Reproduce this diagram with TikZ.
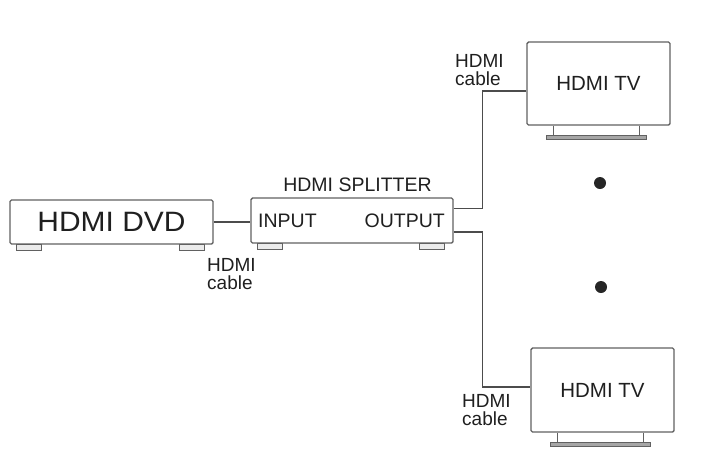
\documentclass[tikz,border=0pt]{standalone}
\usepackage{fontspec}
\setmainfont{Liberation Sans}
\newfontfamily\widesf[FakeStretch=1.07]{Liberation Sans}
\usepackage{tikz}
\usetikzlibrary{positioning,calc}
\colorlet{boxgray}{black!62}
\colorlet{inkgray}{black!88}
\tikzset{
  device/.style={draw=boxgray, line width=1.4pt, rounded corners=1.5pt,
    inner sep=0pt, text=inkgray, font=\fontsize{20.5}{20.5}\selectfont},
  port/.style={font=\fontsize{19.5}{19.5}\selectfont, inner sep=0pt, text=inkgray},
  cablenote/.style={font=\fontsize{19}{18}\selectfont, align=left, inner sep=0pt,
    anchor=north west, text=inkgray},
  cable/.style={draw=black!70, line width=1.2pt},
  foot/.style={draw=boxgray, line width=1pt, fill=black!8},
  leg/.style={draw=boxgray, line width=1pt},
  standbar/.style={draw=boxgray, line width=1pt, fill=black!35},
}
\begin{document}
\begin{tikzpicture}[x=1pt,y=-1pt]
\useasboundingbox (0,0) rectangle (727,467);
% the boxes, placed at pixel positions of the sketch
\node[device, minimum width=203pt, minimum height=44pt,
  font=\widesf\fontsize{28}{28}\selectfont] (dvd) at (111.5,222) {HDMI DVD};
\node[device, minimum width=202pt, minimum height=45pt] (splitter) at (352,220.5) {};
\node[port, anchor=base] (title) at (357.5,191) {HDMI SPLITTER};
\node[port, anchor=base west] (input) at (258,227) {INPUT};
\node[port, anchor=base east] (output) at (445,227) {OUTPUT};
\node[device, minimum width=143pt, minimum height=83pt] (tvtop) at (598.5,83.5) {HDMI TV};
\node[device, minimum width=143pt, minimum height=84pt] (tvbot) at (602.5,390) {HDMI TV};
% feet and stands
\foreach \dev in {dvd,splitter}{
  \draw[foot] ($(\dev.south west)+(7,0)$) rectangle ++(25,6);
  \draw[foot] ($(\dev.south east)+(-34,0)$) rectangle ++(25,6);}
\foreach \tv in {tvtop,tvbot}{
  \draw[leg] ($(\tv.south west)+(27,0)$) -- ++(0,10)
             ($(\tv.south east)+(-31,0)$) -- ++(0,10);
  \draw[standbar] ($(\tv.south west)+(20,10)$) rectangle ($(\tv.south east)+(-24,14)$);}
% cables
\draw[cable] (dvd.east) -- (dvd.east -| splitter.west);
\draw[cable] ($(splitter.east)+(0,-12)$) -- ++(29,0) |- ($(tvtop.west)+(0,7.5)$);
\draw[cable] ($(splitter.east)+(0,11.5)$) -- ++(29,0) |- ($(tvbot.west)+(0,-3)$);
\node[cablenote] (note1) at (207,258) {HDMI\\cable};
\node[cablenote] (note2) at (455,54) {HDMI\\cable};
\node[cablenote] (note3) at (462,394) {HDMI\\cable};
% more screens in between
\fill[black!85] (600,183) circle (6) node (dot1) {};
\fill[black!85] (601,287) circle (6) node (dot2) {};
\end{tikzpicture}
\end{document}
